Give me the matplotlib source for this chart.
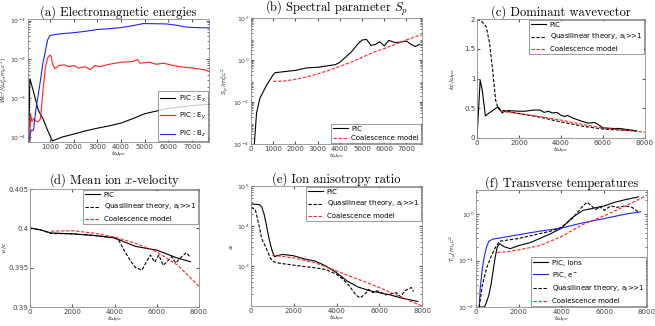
import numpy as np
import matplotlib
matplotlib.use("Agg")
import matplotlib.pyplot as plt
from matplotlib.ticker import LogLocator, NullFormatter

# ---------------- data ----------------
# (a) Electromagnetic energies
a_bz_t = [100, 200, 300, 400, 500, 600, 700, 800, 900, 1000, 1100, 1500, 2000, 2500, 3000, 3500, 4000, 4500, 4950, 5500, 5930, 6400, 6770, 7200, 7700]
a_bz_v = [8e-5, 1.5e-4, 1.5e-4, 5e-4, 1.2e-3, 3e-3, 8e-3, 1.6e-2, 3.2e-2, 4.1e-2, 4.3e-2, 4.6e-2, 4.9e-2, 5.3e-2, 5.9e-2, 6.2e-2, 6.6e-2, 7.4e-2, 8.4e-2, 8.3e-2, 8.2e-2, 7.5e-2, 6.8e-2, 6.6e-2, 6.5e-2]
a_ey_t = [150, 180, 230, 300, 400, 500, 600, 700, 800, 900, 1000, 1050, 1100, 1200, 1400, 1600, 1800, 2000, 2200, 2500, 2700, 2900, 3100, 3500, 4000, 4500, 4700, 4800, 5200, 5500, 5800, 6200, 6500, 7000, 7500, 7700]
a_ey_v = [8e-5, 4e-4, 2.5e-4, 3e-4, 2.6e-4, 2.5e-4, 3e-4, 1.5e-3, 6e-3, 1.1e-2, 1.3e-2, 1.2e-2, 8e-3, 5.8e-3, 7e-3, 7.3e-3, 6.5e-3, 7e-3, 6e-3, 6.5e-3, 5.5e-3, 7e-3, 6.5e-3, 7.5e-3, 8.5e-3, 8.8e-3, 1e-2, 8e-3, 8.5e-3, 7.5e-3, 8e-3, 7e-3, 6.5e-3, 6e-3, 5.5e-3, 5e-3]
a_ex_t = [100, 150, 300, 500, 700, 900, 1100, 1500, 2000, 2500, 3000, 3500, 4000, 4500, 5000, 5500, 6000, 6500, 7000, 7700]
a_ex_v = [8e-5, 3.2e-3, 1.5e-3, 5e-4, 3e-4, 1.5e-4, 8e-5, 1e-4, 1.2e-4, 1.45e-4, 1.7e-4, 1.95e-4, 2.3e-4, 3e-4, 4e-4, 4.7e-4, 5.5e-4, 6e-4, 6.5e-4, 7e-4]

# (b) Spectral parameter
b_pic_t = [150, 250, 400, 700, 1000, 1100, 2000, 2500, 3000, 3500, 3800, 4000, 4500, 4800, 5000, 5200, 5400, 5600, 5800, 6000, 6200, 6500, 6800, 7000, 7200, 7400, 7600]
b_pic_v = [1e-4, 3e-3, 1.5e-2, 6.3e-2, 0.2, 0.25, 0.32, 0.42, 0.45, 0.54, 0.6, 0.78, 2.3, 5.6, 8.9, 9.6, 5.0, 5.5, 7.3, 4.7, 8.6, 6.7, 7.3, 8.0, 5.6, 4.4, 5.6]
b_coal_t = [1000, 1500, 2000, 2500, 3000, 3500, 4000, 4500, 5000, 5500, 6000, 6500, 7000, 7500, 7700]
b_coal_v = [0.096, 0.1, 0.12, 0.155, 0.22, 0.32, 0.5, 0.78, 1.33, 2.3, 3.5, 5.6, 9.0, 14.0, 15.5]

# (c) Dominant wavevector
c_pic_t = [0, 150, 250, 400, 500, 700, 900, 1000, 1100, 1200, 1300, 1500, 2000, 2300, 2700, 3000, 3200, 3400, 3600, 3800, 4000, 4200, 4300, 4600, 5000, 5300, 5600, 5800, 6000, 6500, 6800, 7200, 7600]
c_pic_v = [0.0, 0.97, 0.8, 0.37, 0.4, 0.45, 0.5, 0.52, 0.48, 0.42, 0.45, 0.46, 0.45, 0.45, 0.47, 0.47, 0.43, 0.45, 0.42, 0.43, 0.38, 0.36, 0.38, 0.33, 0.28, 0.25, 0.26, 0.22, 0.17, 0.16, 0.16, 0.14, 0.12]
c_ql_t = [0, 200, 440, 600, 760, 885, 1000, 1100, 2000, 3000, 4000, 5000, 6000, 7000, 7600]
c_ql_v = [2.0, 1.97, 1.87, 1.59, 1.09, 0.64, 0.5, 0.47, 0.41, 0.35, 0.27, 0.2, 0.15, 0.13, 0.12]
c_coal_t = [1100, 2000, 3000, 4000, 5000, 6000, 7000, 8000]
c_coal_v = [0.45, 0.41, 0.36, 0.3, 0.23, 0.17, 0.13, 0.1]

# (d) Mean ion x-velocity
d_pic_t = [0, 500, 1000, 2000, 3000, 4000, 5000, 6000, 7000, 7600]
d_pic_v = [0.40004, 0.3998, 0.39941, 0.3993, 0.3991, 0.39878, 0.3977, 0.39723, 0.3962, 0.39576]
d_ql_t = [0, 500, 1000, 2000, 3000, 4000, 4200, 4500, 4800, 5000, 5300, 5500, 5700, 5900, 6100, 6300, 6500, 6700, 6900, 7100, 7400, 7600]
d_ql_v = [0.40004, 0.3998, 0.39935, 0.3993, 0.3991, 0.3988, 0.3985, 0.397, 0.3957, 0.3950, 0.3947, 0.3957, 0.3966, 0.3957, 0.3966, 0.3953, 0.3958, 0.3964, 0.3956, 0.3962, 0.3969, 0.3963]
d_coal_t = [1000, 2000, 3000, 4000, 5000, 6000, 7000, 8000]
d_coal_v = [0.39965, 0.3997, 0.3994, 0.3989, 0.3981, 0.3970, 0.3953, 0.3926]

# (e) Ion anisotropy ratio
e_pic_t = [0, 200, 400, 500, 600, 700, 800, 900, 1000, 1100, 1200, 1500, 2000, 2500, 3000, 3500, 4000, 4500, 5000, 5500, 6000, 6500, 7000, 7500, 7800]
e_pic_v = [3.5e4, 3.5e4, 3.4e4, 3.0e4, 2.1e4, 1.2e4, 6.3e3, 3.6e3, 2.3e3, 1.7e3, 1.8e3, 1.95e3, 1.8e3, 1.5e3, 1.33e3, 1.0e3, 680, 420, 300, 245, 215, 190, 160, 140, 130]
e_ql_t = [0, 200, 400, 500, 700, 900, 1000, 1200, 2000, 3000, 3500, 4000, 4300, 4600, 4900, 5100, 5300, 5500, 5700, 5900, 6100, 6300, 6500, 6800, 7000, 7200, 7500, 7600]
e_ql_v = [2.9e4, 2.6e4, 9e3, 4.8e3, 2.9e3, 1.6e3, 1.33e3, 1.2e3, 1.05e3, 900, 820, 620, 470, 320, 190, 160, 190, 260, 215, 240, 215, 190, 200, 215, 170, 240, 290, 230]
e_coal_t = [1000, 2000, 3000, 4000, 5000, 6000, 7000, 8000]
e_coal_v = [1.85e3, 1.6e3, 1.2e3, 750, 470, 290, 170, 100]

# (f) Transverse temperatures
f_ion_t = [200, 400, 500, 600, 700, 800, 900, 1000, 1100, 1300, 1600, 2000, 2500, 3000, 3500, 4000, 4500, 5000, 5500, 6000, 6500, 7000, 7600]
f_ion_v = [0.01, 0.01, 0.013, 0.018, 0.03, 0.06, 0.12, 0.2, 0.23, 0.2, 0.18, 0.21, 0.24, 0.3, 0.38, 0.5, 0.84, 1.2, 1.34, 1.5, 1.8, 2.05, 2.35]
f_ele_t = [150, 200, 300, 400, 500, 600, 800, 1000, 2000, 3000, 4000, 5000, 6000, 7000, 7700]
f_ele_v = [0.01, 0.026, 0.07, 0.13, 0.2, 0.26, 0.29, 0.3, 0.36, 0.43, 0.5, 0.65, 0.8, 1.0, 1.12]
f_ql_t = [150, 300, 500, 700, 900, 1100, 2000, 3000, 3500, 4000, 4500, 5000, 5200, 5400, 5600, 5800, 6000, 6300, 6600, 7000, 7300, 7600]
f_ql_v = [0.01, 0.03, 0.07, 0.12, 0.19, 0.26, 0.3, 0.38, 0.43, 0.52, 0.8, 1.5, 1.8, 1.5, 1.25, 1.45, 1.2, 1.5, 1.4, 1.5, 1.4, 1.1]
f_coal_t = [1000, 1500, 2000, 3000, 4000, 5000, 6000, 7000, 8000]
f_coal_v = [0.15, 0.155, 0.17, 0.21, 0.33, 0.6, 0.92, 1.5, 2.55]

titles = ["(a) Electromagnetic energies", "(b) Spectral parameter $S_p$", "(c) Dominant wavevector",
          "(d) Mean ion $x$-velocity", "(e) Ion anisotropy ratio", "(f) Transverse temperatures"]

# ---------------- style ----------------
plt.rcParams.update({
    "font.family": "DejaVu Sans",
    "font.size": 5,
    "axes.linewidth": 0.6,
    "axes.edgecolor": "0.55",
    "xtick.color": "0.35",
    "ytick.color": "0.35",
    "xtick.labelcolor": "0.25",
    "ytick.labelcolor": "0.25",
    "xtick.direction": "in",
    "ytick.direction": "in",
    "xtick.major.size": 2.5,
    "ytick.major.size": 2.5,
    "xtick.minor.size": 1.3,
    "ytick.minor.size": 1.3,
    "xtick.major.pad": 1.5,
    "ytick.major.pad": 1.2,
    "xtick.top": True,
    "ytick.right": True,
    "mathtext.fontset": "dejavusans",
    "legend.fontsize": 5,
})

fig = plt.figure(figsize=(6.55, 3.26), dpi=100)
W, H = 655.0, 326.0
def box(l, t, r, b):
    return [l / W, 1 - b / H, (r - l) / W, (b - t) / H]

axs = [fig.add_axes(box(28, 19, 209, 142)),
       fig.add_axes(box(251, 18, 422, 144)),
       fig.add_axes(box(477, 19, 645, 138)),
       fig.add_axes(box(30, 189, 199, 307)),
       fig.add_axes(box(251, 186, 422, 306)),
       fig.add_axes(box(476, 190, 647, 307))]

ylabel_x = [-0.095, -0.115, -0.11, -0.125, -0.085, -0.1]
ylabel_fs = [4.3, 4.6, 4.6, 4.6, 4.6, 4.6]

for ax, t in zip(axs, titles):
    ax.set_title(t, fontsize=9, family="cmr10", math_fontfamily="cm", pad=2.5, color="black")
    ax.set_xlabel(r"$t\omega_{pe}$", labelpad=0, color="0.2", fontsize=4.6)

lw = 0.8
DASH = (0, (3.0, 1.5))
RED = "#ff2020"
BLUE = "#2020ff"

def mklegend(ax, loc, spacing):
    leg = ax.legend(loc=loc, frameon=True, fancybox=False, edgecolor="0.3",
                    handlelength=2.2, borderpad=0.3, labelspacing=spacing, borderaxespad=0.1,
                    handletextpad=0.5)
    leg.get_frame().set_linewidth(0.5)

# (a)
ax = axs[0]
ax.semilogy(a_ex_t, a_ex_v, color="black", lw=lw, label="PIC : E$_x$")
ax.semilogy(a_ey_t, a_ey_v, color=RED, lw=lw, label="PIC : E$_y$")
ax.semilogy(a_bz_t, a_bz_v, color=BLUE, lw=lw, label="PIC : B$_z$")
ax.set_xlim(70, 7720)
ax.set_ylim(7.5e-5, 1.1e-1)
ax.set_xticks([1000, 2000, 3000, 4000, 5000, 6000, 7000])
ax.set_ylabel(r"$Wc^2/(\omega_{pe}^2 m_e c^2)$", color="0.2")
mklegend(ax, "lower right", 1.0)

# (b)
ax = axs[1]
ax.semilogy(b_pic_t, b_pic_v, color="black", lw=lw, label="PIC")
ax.semilogy(b_coal_t, b_coal_v, color=RED, lw=lw, ls=DASH, label="Coalescence model")
ax.set_xlim(0, 7700)
ax.set_ylim(1e-4, 1e2)
ax.set_yticks([1e-4, 1e-2, 1e0, 1e2])
ax.set_xticks([0, 1000, 2000, 3000, 4000, 5000, 6000, 7000])
ax.set_ylabel(r"$S_p\,/m_e^2c^2$", color="0.2")
mklegend(ax, "lower right", 0.5)

# (c)
ax = axs[2]
ax.plot(c_pic_t, c_pic_v, color="black", lw=lw, label="PIC")
ax.plot(c_ql_t, c_ql_v, color="black", lw=lw, ls=DASH, label="Quasilinear theory, a$_i$>>1")
ax.plot(c_coal_t, c_coal_v, color=RED, lw=lw, ls=DASH, label="Coalescence model")
ax.set_xlim(0, 8000)
ax.set_ylim(0, 2)
ax.set_xticks([0, 2000, 4000, 6000, 8000])
ax.set_yticks([0, 0.5, 1, 1.5, 2])
ax.set_yticklabels(["0", "0.5", "1", "1.5", "2"])
ax.set_ylabel(r"$kc/\omega_{pe}$", color="0.2")
mklegend(ax, "upper right", 0.6)

# (d)
ax = axs[3]
ax.plot(d_pic_t, d_pic_v, color="black", lw=lw, label="PIC")
ax.plot(d_ql_t, d_ql_v, color="black", lw=lw, ls=DASH, label="Quasilinear theory, a$_i$>>1")
ax.plot(d_coal_t, d_coal_v, color=RED, lw=lw, ls=DASH, label="Coalescence model")
ax.set_xlim(0, 8000)
ax.set_ylim(0.39, 0.405)
ax.set_xticks([0, 2000, 4000, 6000, 8000])
ax.set_yticks([0.39, 0.395, 0.4, 0.405])
ax.set_yticklabels(["0.39", "0.395", "0.4", "0.405"])
ax.set_ylabel(r"$v_i/c$", color="0.2")
mklegend(ax, "upper right", 0.6)

# (e)
ax = axs[4]
ax.semilogy(e_pic_t, e_pic_v, color="black", lw=lw, label="PIC")
ax.semilogy(e_ql_t, e_ql_v, color="black", lw=lw, ls=DASH, label="Quasilinear theory, a$_i$>>1")
ax.semilogy(e_coal_t, e_coal_v, color=RED, lw=lw, ls=DASH, label="Coalescence model")
ax.set_xlim(0, 8000)
ax.set_ylim(1e2, 1e5)
ax.set_yticks([1e3, 1e4, 1e5])
ax.set_xticks([0, 2000, 4000, 6000, 8000])
ax.set_ylabel(r"$a_i$", color="0.2")
mklegend(ax, "upper right", 0.6)

# (f)
ax = axs[5]
ax.semilogy(f_ion_t, f_ion_v, color="black", lw=lw, label="PIC, ions")
ax.semilogy(f_ele_t, f_ele_v, color=BLUE, lw=lw, label="PIC, e$^-$")
ax.semilogy(f_ql_t, f_ql_v, color="black", lw=lw, ls=DASH, label="Quasilinear theory, a$_i$>>1")
ax.semilogy(f_coal_t, f_coal_v, color=RED, lw=lw, ls=DASH, label="Coalescence model")
ax.set_xlim(0, 8000)
ax.set_ylim(1e-2, 3.3)
ax.set_yticks([1e-2, 1e-1, 1e0])
ax.set_xticks([0, 2000, 4000, 6000, 8000])
ax.set_ylabel(r"$T_{iy}/m_e c^2$", color="0.2")
mklegend(ax, "lower right", 0.6)

for ax, lx, fs in zip(axs, ylabel_x, ylabel_fs):
    ax.yaxis.set_label_coords(lx, 0.5)
    ax.yaxis.label.set_fontsize(fs)
    for lab in ax.get_xticklabels():
        lab.set_fontsize(5)
    for lab in ax.get_yticklabels():
        lab.set_fontsize(4.5 if ax.get_yscale() == "log" else 5)
    if ax.get_yscale() == "log":
        ax.yaxis.set_minor_locator(LogLocator(base=10, subs=np.arange(2, 10), numticks=20))
        ax.yaxis.set_minor_formatter(NullFormatter())

fig.savefig("out.png", dpi=100)
